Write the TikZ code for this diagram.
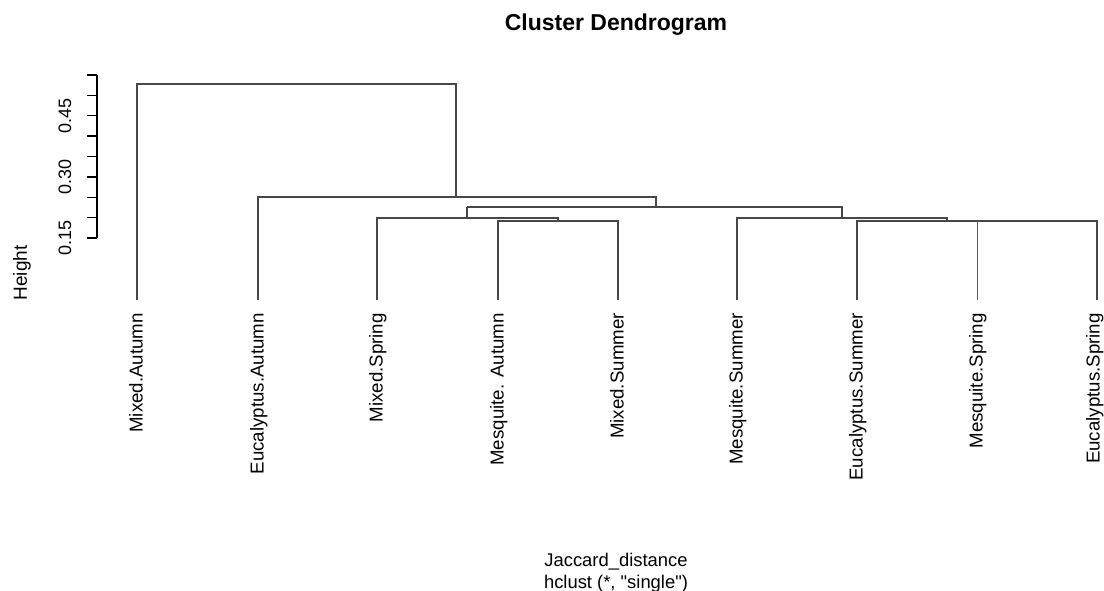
\documentclass[tikz,border=0pt]{standalone}
\usepackage{fontspec}
\setmainfont{Liberation Sans}
\begin{document}
\begin{tikzpicture}[x=1pt,y=-1pt,
  dend/.style={draw=black!72, line width=1.2pt},
  thin dend/.style={draw=black!65, line width=0.9pt},
  axisline/.style={draw=black, line width=1.3pt},
  leaflabel/.style={rotate=90, anchor=base east, inner sep=0pt, font=\fontsize{18.7}{20}\selectfont},
  ticklabel/.style={rotate=90, anchor=base, inner sep=0pt, font=\fontsize{18}{20}\selectfont},
  plainlabel/.style={anchor=base, inner sep=0pt}]
\useasboundingbox[fill=white] (0,0) rectangle (1104,591);

% title and axis titles
\node[plainlabel, font=\fontsize{23}{26}\selectfont\bfseries] (title) at (616,31) {Cluster Dendrogram};
\node[plainlabel, font=\fontsize{18.4}{20}\selectfont] (xlab) at (616,566) {Jaccard\_distance};
\node[plainlabel, font=\fontsize{18.4}{20}\selectfont] (sub) at (616,588) {hclust (*, \textquotedbl single\textquotedbl)};
\node[rotate=90, anchor=base, inner sep=0pt, font=\fontsize{19}{21}\selectfont] (ylab) at (27,273) {Height};

% y axis
\coordinate (ax0) at (97,238);
\coordinate (ax1) at (97,75);
\draw[axisline] (ax0) -- (ax1);
\foreach \k in {0,...,8} {
  \draw[axisline] (87,{238-20.375*\k}) -- (97,{238-20.375*\k});
}
\node[ticklabel] (t15) at (71,238) {0.15};
\node[ticklabel] (t30) at (71,177) {0.30};
\node[ticklabel] (t45) at (71,116) {0.45};

% leaves (bottom end of each branch)
\foreach \i/\x in {1/137,2/258,3/377,4/498,5/618,6/737,7/857,8/977,9/1097} {
  \coordinate (l\i) at (\x,300);
}
% leaf labels
\node[leaflabel] (n1) at (142.5,313) {Mixed.Autumn};
\node[leaflabel] (n2) at (263.5,313) {Eucalyptus.Autumn};
\node[leaflabel] (n3) at (382.5,313) {Mixed.Spring};
\node[leaflabel] (n4) at (503.5,313) {Mesquite. Autumn};
\node[leaflabel] (n5) at (623.5,313) {Mixed.Summer};
\node[leaflabel] (n6) at (742.5,313) {Mesquite.Summer};
\node[leaflabel] (n7) at (862.5,313) {Eucalyptus.Summer};
\node[leaflabel] (n8) at (982.5,313) {Mesquite.Spring};
\node[leaflabel] (n9) at (1099.5,313) {Eucalyptus.Spring};

% merge points
\coordinate (a) at (456,84);   % top merge
\coordinate (b) at (656,197);
\coordinate (c) at (842,207);
\coordinate (d) at (558,218);
\coordinate (e) at (947,218);
\coordinate (bl) at (456,197);
\coordinate (cl) at (467,207);
\coordinate (cr) at (656,207);
\coordinate (dl) at (467,218);
\coordinate (er) at (842,218);

% branches
\draw[dend] (l1) |- (a) -- (bl);
\draw[dend] (l2) |- (b) -- (cr);
\draw[dend] (cl) -- (dl);
\draw[dend] (cl) -- (c) -- (er);
\draw[dend] (l3) |- (d) -- (558,221);
\draw[dend] (l4) |- (618,221) -- (l5);
\draw[dend] (l6) |- (e) -- (947,221);
\draw[dend] (l7) |- (1097,221) -- (l9);
\draw[thin dend] (l8) -- (977,221);
\end{tikzpicture}
\end{document}
